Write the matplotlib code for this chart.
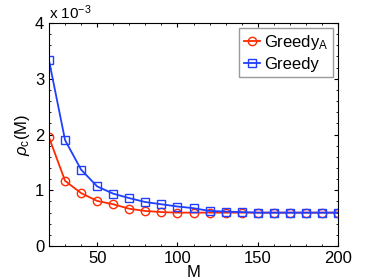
import numpy as np
import matplotlib
matplotlib.use("Agg")
import matplotlib.pyplot as plt
from matplotlib.ticker import AutoMinorLocator

# data (values in units of 1e-3)
M = [20, 30, 40, 50, 60, 70, 80, 90, 100, 110, 120, 130, 140, 150, 160, 170, 180, 190, 200]
greedy_a = [1.95, 1.17, 0.95, 0.81, 0.75, 0.67, 0.63, 0.61, 0.60, 0.60, 0.60, 0.60, 0.60,
            0.60, 0.60, 0.60, 0.60, 0.60, 0.60]
greedy = [3.33, 1.90, 1.37, 1.07, 0.94, 0.86, 0.79, 0.75, 0.71, 0.68, 0.63, 0.62, 0.61,
          0.60, 0.60, 0.60, 0.60, 0.60, 0.60]

plt.rcParams['font.family'] = ['Liberation Sans', 'DejaVu Sans']
plt.rcParams['mathtext.fontset'] = 'custom'
plt.rcParams['mathtext.rm'] = 'Liberation Sans'
plt.rcParams['mathtext.it'] = 'Liberation Sans:italic'
fig = plt.figure(figsize=(3.74, 2.80), dpi=100)
ax = fig.add_axes([0.131, 0.121, 0.773, 0.797])

ax.plot(M, greedy_a, '-o', color='#ff2a00', mfc='none', ms=6, lw=1.3, label='Greedy$_\\mathrm{A}$')
ax.plot(M, greedy, '-s', color='#1f3fff', mfc='none', ms=5.5, lw=1.3, label='Greedy')

ax.set_xlim(20, 200)
ax.set_ylim(0, 4)
ax.set_xticks([50, 100, 150, 200])
ax.set_yticks([0, 1, 2, 3, 4])
ax.xaxis.set_minor_locator(AutoMinorLocator(5))
ax.yaxis.set_minor_locator(AutoMinorLocator(5))
ax.tick_params(which='both', direction='in', top=True, right=True, labelsize=12)
ax.tick_params(which='major', length=3)
ax.tick_params(which='minor', length=1.5)
ax.set_xlabel('M', fontsize=12, labelpad=-1)
ax.set_ylabel(r'$\rho_\mathrm{c}$(M)', fontsize=12, labelpad=2)
ax.text(0.0, 1.005, r'x 10$^{-3}$', transform=ax.transAxes, fontsize=11, va='bottom')

leg = ax.legend(loc='upper right', fontsize=12, fancybox=False, borderaxespad=0.3,
                handlelength=1.0, handletextpad=0.2, borderpad=0.3, labelspacing=0.3)
leg.get_frame().set_edgecolor('#808080')

fig.savefig('out.png', dpi=100)
